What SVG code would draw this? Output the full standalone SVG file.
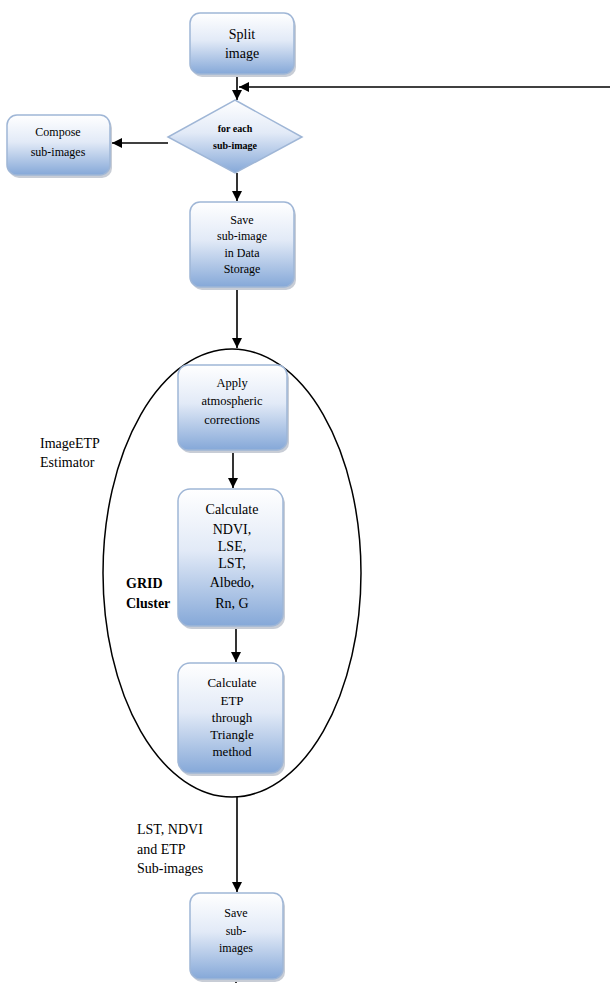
<svg xmlns="http://www.w3.org/2000/svg" width="610" height="983" viewBox="0 0 610 983">
<style>
.box{fill:url(#g);stroke:#9fb6d6;stroke-width:1.5}
.sh{fill:#c8cdd6}
.t{font-family:"Liberation Serif",serif;fill:#000;text-anchor:middle}
.l{font-family:"Liberation Serif",serif;fill:#000}
.c{stroke:#000;stroke-width:1.6;fill:none}
</style>
<defs>
<linearGradient id="g" x1="0" y1="0" x2="0" y2="1">
<stop offset="0" stop-color="#ffffff"/>
<stop offset="0.45" stop-color="#e2eaf7"/>
<stop offset="1" stop-color="#85a8d8"/>
</linearGradient>
<marker id="a" viewBox="0 0 10 10" refX="10" refY="5" markerWidth="10" markerHeight="10" markerUnits="userSpaceOnUse" orient="auto">
<path d="M0,0 L10,5 L0,10 z" fill="#000"/>
</marker>
</defs>
<g id="connectors">
<line class="c" x1="237" y1="74" x2="237" y2="100" marker-end="url(#a)"/>
<line class="c" x1="610" y1="87" x2="239" y2="87" marker-end="url(#a)"/>
<line class="c" x1="168" y1="143" x2="112" y2="143" marker-end="url(#a)"/>
<line class="c" x1="237" y1="173" x2="237" y2="201" marker-end="url(#a)"/>
<line class="c" x1="237" y1="287" x2="237" y2="348" marker-end="url(#a)"/>
<line class="c" x1="233" y1="450" x2="233" y2="488" marker-end="url(#a)"/>
<line class="c" x1="236" y1="626" x2="236" y2="662" marker-end="url(#a)"/>
<line class="c" x1="237" y1="797" x2="237" y2="892" marker-end="url(#a)"/>
<line class="c" x1="236" y1="979" x2="236" y2="983"/>
</g>
<g id="cluster">
<ellipse cx="232" cy="573" rx="129" ry="224" fill="none" stroke="#000" stroke-width="1.5"/>
<text class="l" x="40" y="448" font-size="14">ImageETP</text>
<text class="l" x="40" y="467" font-size="14">Estimator</text>
<text class="l" x="126" y="588" font-size="14" font-weight="bold">GRID</text>
<text class="l" x="126" y="608" font-size="14" font-weight="bold">Cluster</text>
</g>
<g id="split">
<rect class="sh" x="192" y="16" width="104" height="61" rx="10"/>
<rect class="box" x="190" y="13" width="104" height="61" rx="10"/>
<text class="t" x="242" y="39" font-size="14">Split</text>
<text class="t" x="242" y="58" font-size="14">image</text>
</g>
<g id="foreach">
<polygon points="235,100 302,137 235,173 168,137" fill="url(#g)" stroke="#9fb6d6" stroke-width="1.5"/>
<text class="t" x="235" y="132" font-size="10" font-weight="bold">for each</text>
<text class="t" x="235" y="149" font-size="10" font-weight="bold">sub-image</text>
</g>
<g id="compose">
<rect class="sh" x="9" y="118" width="103" height="60" rx="10"/>
<rect class="box" x="7" y="115" width="103" height="60" rx="10"/>
<text class="t" x="58" y="136" font-size="12">Compose</text>
<text class="t" x="58" y="156" font-size="12">sub-images</text>
</g>
<g id="save1">
<rect class="sh" x="192" y="205" width="104" height="85" rx="10"/>
<rect class="box" x="190" y="202" width="104" height="85" rx="10"/>
<text class="t" x="242" y="224" font-size="12">Save</text>
<text class="t" x="242" y="240" font-size="12">sub-image</text>
<text class="t" x="242" y="257" font-size="12">in Data</text>
<text class="t" x="242" y="273" font-size="12">Storage</text>
</g>
<g id="atmos">
<rect class="sh" x="180" y="368" width="109" height="85" rx="10"/>
<rect class="box" x="178" y="365" width="109" height="85" rx="10"/>
<text class="t" x="232" y="387" font-size="12.5">Apply</text>
<text class="t" x="232" y="405" font-size="12.5">atmospheric</text>
<text class="t" x="232" y="424" font-size="12.5">corrections</text>
</g>
<g id="calc1">
<rect class="sh" x="180" y="492" width="105" height="137" rx="12"/>
<rect class="box" x="178" y="489" width="105" height="137" rx="12"/>
<text class="t" x="232" y="514" font-size="14">Calculate</text>
<text class="t" x="232" y="534" font-size="14">NDVI,</text>
<text class="t" x="232" y="551" font-size="14">LSE,</text>
<text class="t" x="232" y="568" font-size="14">LST,</text>
<text class="t" x="232" y="587" font-size="14">Albedo,</text>
<text class="t" x="232" y="608" font-size="14">Rn, G</text>
</g>
<g id="calc2">
<rect class="sh" x="180" y="666" width="105" height="110" rx="12"/>
<rect class="box" x="178" y="663" width="105" height="110" rx="12"/>
<text class="t" x="232" y="687" font-size="13">Calculate</text>
<text class="t" x="232" y="705" font-size="13">ETP</text>
<text class="t" x="232" y="722" font-size="13">through</text>
<text class="t" x="232" y="739" font-size="13">Triangle</text>
<text class="t" x="232" y="756" font-size="13">method</text>
</g>
<g id="label">
<text class="l" x="137" y="834" font-size="14">LST, NDVI</text>
<text class="l" x="137" y="854" font-size="14">and ETP</text>
<text class="l" x="137" y="873" font-size="14">Sub-images</text>
</g>
<g id="save2">
<rect class="sh" x="192" y="896" width="93" height="86" rx="10"/>
<rect class="box" x="190" y="893" width="93" height="86" rx="10"/>
<text class="t" x="236" y="917" font-size="12">Save</text>
<text class="t" x="236" y="935" font-size="12">sub-</text>
<text class="t" x="236" y="952" font-size="12">images</text>
</g>
</svg>
